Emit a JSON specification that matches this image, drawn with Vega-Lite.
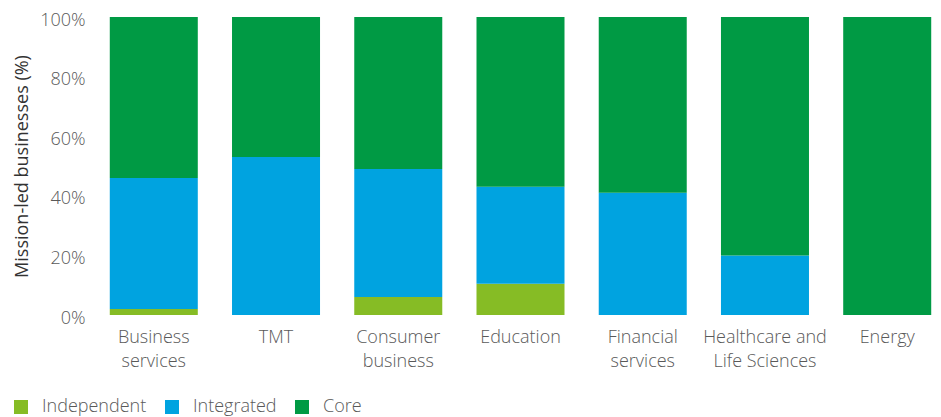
{
  "$schema": "https://vega.github.io/schema/vega-lite/v6.json",
  "width": 841,
  "height": 298,
  "autosize": {"type": "none"},
  "padding": {"left": 100, "top": 17, "right": 0, "bottom": 102},
  "background": "white",
  "config": {
    "view": {"stroke": null},
    "font": "Open Sans",
    "axis": {"labelColor": "#595959", "titleColor": "#333333", "labelFont": "Open Sans", "titleFont": "Open Sans", "labelFontWeight": 300, "titleFontWeight": 400},
    "legend": {"labelFont": "Open Sans", "labelFontWeight": 300}
  },
  "data": {
    "values": [
      {"sector": "Business services", "type": "Independent", "rank": 1, "value": 2},
      {"sector": "Business services", "type": "Integrated", "rank": 2, "value": 44},
      {"sector": "Business services", "type": "Core", "rank": 3, "value": 54},
      {"sector": "TMT", "type": "Independent", "rank": 1, "value": 0},
      {"sector": "TMT", "type": "Integrated", "rank": 2, "value": 53},
      {"sector": "TMT", "type": "Core", "rank": 3, "value": 47},
      {"sector": "Consumer business", "type": "Independent", "rank": 1, "value": 6},
      {"sector": "Consumer business", "type": "Integrated", "rank": 2, "value": 43},
      {"sector": "Consumer business", "type": "Core", "rank": 3, "value": 51},
      {"sector": "Education", "type": "Independent", "rank": 1, "value": 10.5},
      {"sector": "Education", "type": "Integrated", "rank": 2, "value": 32.5},
      {"sector": "Education", "type": "Core", "rank": 3, "value": 57},
      {"sector": "Financial services", "type": "Independent", "rank": 1, "value": 0},
      {"sector": "Financial services", "type": "Integrated", "rank": 2, "value": 41},
      {"sector": "Financial services", "type": "Core", "rank": 3, "value": 59},
      {"sector": "Healthcare and Life Sciences", "type": "Independent", "rank": 1, "value": 0},
      {"sector": "Healthcare and Life Sciences", "type": "Integrated", "rank": 2, "value": 20},
      {"sector": "Healthcare and Life Sciences", "type": "Core", "rank": 3, "value": 80},
      {"sector": "Energy", "type": "Independent", "rank": 1, "value": 0},
      {"sector": "Energy", "type": "Integrated", "rank": 2, "value": 0},
      {"sector": "Energy", "type": "Core", "rank": 3, "value": 100}
    ]
  },
  "mark": {"type": "bar"},
  "encoding": {
    "x": {
      "field": "sector",
      "type": "nominal",
      "sort": null,
      "scale": {"paddingInner": 0.28, "paddingOuter": 0.08},
      "axis": {
        "title": null,
        "labelAngle": 0,
        "domain": false,
        "ticks": false,
        "labelFontSize": 18,
        "labelPadding": 13,
        "labelLineHeight": 24,
        "labelBaseline": "top",
        "labelExpr": "datum.value == 'Healthcare and Life Sciences' ? ['Healthcare and', 'Life Sciences'] : split(datum.value, ' ')"
      }
    },
    "y": {
      "field": "value",
      "type": "quantitative",
      "stack": "zero",
      "scale": {"domain": [0, 100], "nice": false},
      "axis": {
        "title": "Mission-led businesses (%)",
        "titleFontSize": 18,
        "titlePadding": 8,
        "values": [0, 20, 40, 60, 80, 100],
        "labelExpr": "datum.value + '%'",
        "labelFontSize": 18,
        "labelPadding": 15,
        "labelOffset": 3,
        "grid": false,
        "domain": false,
        "ticks": false
      }
    },
    "color": {
      "field": "type",
      "type": "nominal",
      "sort": ["Independent", "Integrated", "Core"],
      "scale": {"domain": ["Independent", "Integrated", "Core"], "range": ["#86BC25", "#00A3E0", "#009A44"]},
      "legend": {
        "title": null,
        "orient": "none",
        "direction": "horizontal",
        "legendX": -88,
        "legendY": 381,
        "symbolType": "square",
        "symbolSize": 196,
        "symbolStrokeWidth": 0,
        "symbolOpacity": 1,
        "labelFontSize": 18,
        "labelColor": "#595959",
        "labelOffset": 12,
        "columnPadding": 16
      }
    },
    "order": {"field": "rank", "type": "quantitative", "sort": "ascending"}
  }
}
